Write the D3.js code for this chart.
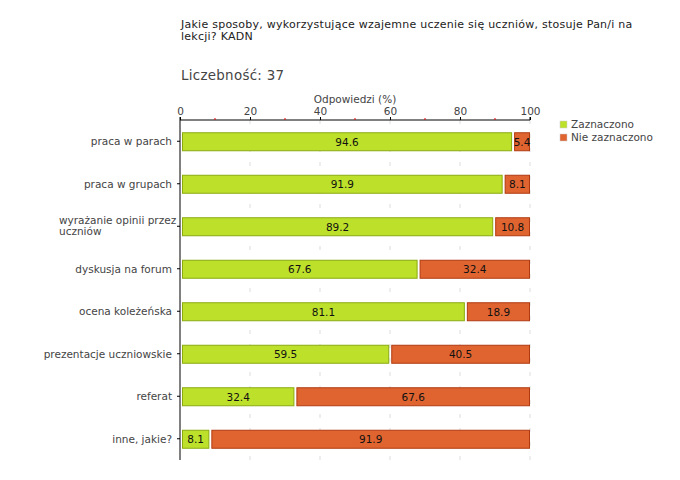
<!DOCTYPE html>
<html><head><meta charset="utf-8">
<script src="https://cdnjs.cloudflare.com/ajax/libs/d3/7.8.5/d3.min.js"></script>
<style>body{margin:0;background:#fff;} text{font-family:"DejaVu Sans",Verdana,sans-serif;}</style>
</head><body><svg id="c" width="680" height="480"></svg>
<script>
const categories = ["praca w parach","praca w grupach","wyrażanie opinii przez uczniów","dyskusja na forum","ocena koleżeńska","prezentacje uczniowskie","referat","inne, jakie?"];
const categoryLines = [["praca w parach"],["praca w grupach"],["wyrażanie opinii przez","uczniów"],["dyskusja na forum"],["ocena koleżeńska"],["prezentacje uczniowskie"],["referat"],["inne, jakie?"]];
const zaznaczono = [94.6, 91.9, 89.2, 67.6, 81.1, 59.5, 32.4, 8.1];
const nieZaznaczono = [5.4, 8.1, 10.8, 32.4, 18.9, 40.5, 67.6, 91.9];
const seriesNames = ["Zaznaczono","Nie zaznaczono"];
const colors = ["#bde02b","#e06430"];
const strokes = ["#8aaa10","#b03a10"];
const majorTicks = [0,20,40,60,80,100];
const minorTicks = [10,30,50,70,90];
const titleLines = ["Jakie sposoby, wykorzystujące wzajemne uczenie się uczniów, stosuje Pan/i na","lekcji? KADN"];
const countLabel = "Liczebność: 37";
const axisTitle = "Odpowiedzi (%)";

const svg = d3.select("#c");
const L = 180, R = 530, T = 120, B = 460;
const x = d3.scaleLinear().domain([0,100]).range([L,R]);
const y = d3.scaleBand().domain(categories).range([T,B]);

svg.selectAll("text.title").data(titleLines).enter().append("text")
  .attr("x",181).attr("y",(d,i)=>28+i*12).attr("font-size",11).attr("letter-spacing",0.25).attr("fill","#222").text(d=>d);
svg.append("text").attr("x",181).attr("y",80).attr("font-size",13.4).attr("letter-spacing",0.3).attr("fill","#444").text(countLabel);
svg.append("text").attr("x",(L+R)/2).attr("y",103).attr("text-anchor","middle").attr("font-size",10.5).attr("fill","#444").text(axisTitle);

// gridlines
svg.selectAll("line.grid").data(majorTicks.filter(d=>d>0)).enter().append("line")
  .attr("x1",d=>x(d)).attr("x2",d=>x(d)).attr("y1",T).attr("y2",B)
  .attr("stroke","#ddd").attr("stroke-dasharray","4,10");

// top axis
const ax = svg.append("g").attr("transform",`translate(0,${T})`)
  .call(d3.axisTop(x).tickValues(majorTicks).tickSize(3).tickPadding(2).tickFormat(d3.format("d")));
ax.select(".domain").attr("stroke","#000").attr("d",`M${L},-3V0H${R}V-3`);
ax.selectAll(".tick line").attr("stroke","#000");
ax.selectAll(".tick text").attr("font-size",10.5).attr("fill","#444").attr("font-family","DejaVu Sans");
svg.selectAll("line.minor").data(minorTicks).enter().append("line")
  .attr("x1",d=>x(d)).attr("x2",d=>x(d)).attr("y1",T-2).attr("y2",T).attr("stroke","#d00");

// left axis
const ay = svg.append("g").attr("transform",`translate(${L},0)`)
  .call(d3.axisLeft(y).tickSize(3).tickFormat(""));
ay.select(".domain").attr("stroke","#000").attr("d",`M0,${T}V${B}`);
ay.selectAll(".tick line").attr("stroke","#000");

categoryLines.forEach((lines,i)=>{
  const cy = y(categories[i]) + y.bandwidth()/2;
  const t = svg.append("text").attr("x",172).attr("text-anchor","end").attr("font-size",10.5).attr("fill","#444");
  if(lines.length===1){
    t.attr("y",cy+4).text(lines[0]);
  } else {
    t.attr("text-anchor","start");
    lines.forEach((ln,j)=>t.append("tspan").attr("x",59).attr("y",cy-2+j*11).text(ln));
  }
});

// bars
const bh = 18;
categories.forEach((c,i)=>{
  const cy = y(c) + y.bandwidth()/2;
  const segs = [[x(0)+2.5, x(zaznaczono[i])+0.5],[x(zaznaczono[i])+3.5, x(100)-0.5]];
  segs.forEach((s,k)=>{
    const x0 = s[0], x1 = s[1];
    svg.append("rect").attr("x",x0).attr("y",cy-bh/2+0.5).attr("width",x1-x0).attr("height",bh)
      .attr("fill",colors[k]).attr("stroke",strokes[k]).attr("stroke-width",1);
    const val = k===0 ? zaznaczono[i] : nieZaznaczono[i];
    svg.append("text").attr("x",(x0+x1)/2).attr("y",cy+4.5).attr("text-anchor","middle")
      .attr("font-size",10.5).attr("fill","#111").text(val.toFixed(1));
  });
});

// legend
seriesNames.forEach((n,i)=>{
  svg.append("rect").attr("x",560).attr("y",121+i*13).attr("width",7).attr("height",7)
    .attr("fill",colors[i]).attr("stroke","#ccc").attr("stroke-width",0.5);
  svg.append("text").attr("x",571).attr("y",128+i*13).attr("font-size",10.5).attr("fill","#444").text(n);
});
</script></body></html>
